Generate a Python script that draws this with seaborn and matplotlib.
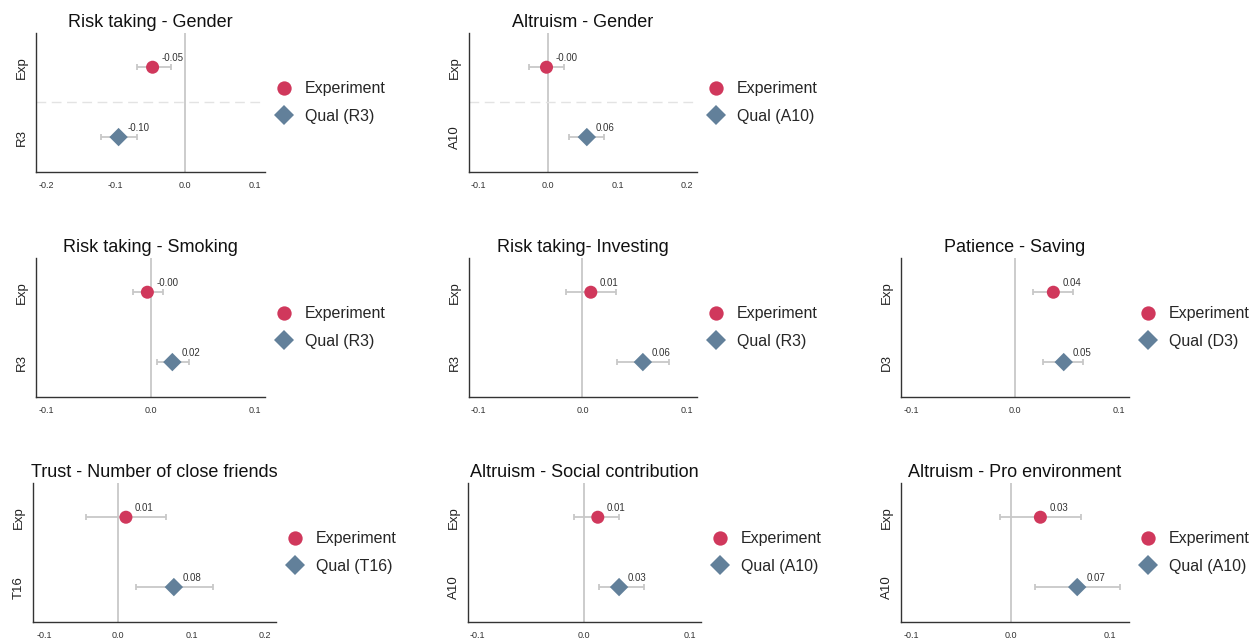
import numpy as np
import pandas as pd
import matplotlib
matplotlib.use('Agg')
import matplotlib.pyplot as plt
import seaborn as sns

# panel titles and qualitative item codes
titles = ['Risk taking - Gender', 'Altruism - Gender',
          'Risk taking - Smoking', 'Risk taking- Investing', 'Patience - Saving',
          'Trust - Number of close friends', 'Altruism - Social contribution',
          'Altruism - Pro environment']
qual_codes = ['R3', 'A10', 'R3', 'R3', 'D3', 'T16', 'A10', 'A10']

# estimates and confidence intervals
exp_est = [-0.047, -0.002, -0.003, 0.008, 0.037, 0.011, 0.013, 0.030]
exp_lo = [-0.070, -0.027, -0.017, -0.016, 0.017, -0.043, -0.009, -0.011]
exp_hi = [-0.021, 0.023, 0.012, 0.032, 0.056, 0.065, 0.033, 0.071]
qual_est = [-0.096, 0.056, 0.021, 0.058, 0.047, 0.076, 0.033, 0.067]
qual_lo = [-0.122, 0.031, 0.006, 0.033, 0.027, 0.024, 0.014, 0.025]
qual_hi = [-0.070, 0.080, 0.037, 0.083, 0.066, 0.129, 0.056, 0.110]

x_ticks = [[-0.2, -0.1, 0.0, 0.1], [-0.1, 0.0, 0.1, 0.2],
           [-0.1, 0.0, 0.1], [-0.1, 0.0, 0.1], [-0.1, 0.0, 0.1],
           [-0.1, 0.0, 0.1, 0.2], [-0.1, 0.0, 0.1], [-0.1, 0.0, 0.1]]
x_lims = [(-0.215, 0.115), (-0.1135, 0.2145), (-0.11, 0.11), (-0.109, 0.11),
          (-0.11, 0.11), (-0.115, 0.2145), (-0.109, 0.11), (-0.11, 0.119)]

# axes boxes in pixels: left, right, top, bottom
boxes = [(36, 265, 33, 172), (469, 697, 33, 172),
         (36, 265, 258, 397), (469, 697, 258, 397), (901, 1129, 258, 397),
         (33, 276, 483, 622), (468, 701, 483, 622), (901, 1129, 483, 622)]

RED = '#D0385C'
BLUE = '#62809A'
W, H = 1254, 642

sns.set_theme(style='white')
plt.rcParams['font.family'] = ['Liberation Sans', 'DejaVu Sans']
plt.rcParams['axes.unicode_minus'] = False

fig = plt.figure(figsize=(W / 100, H / 100), dpi=100)

for i in range(len(titles)):
    l, r, t, b = boxes[i]
    ax = fig.add_axes([l / W, 1 - b / H, (r - l) / W, (b - t) / H])

    df = pd.DataFrame({
        'est': [exp_est[i], qual_est[i]],
        'lo': [exp_lo[i], qual_lo[i]],
        'hi': [exp_hi[i], qual_hi[i]],
        'pos': [1, 0],
        'group': ['Experiment', 'Qual ({})'.format(qual_codes[i])],
    })

    ax.axvline(0, color='#c4c4c4', lw=1.2, zorder=0)
    if 'Gender' in titles[i]:
        ax.axhline(0.5, color='#e3e3e3', lw=1.0, ls=(0, (7, 4)), zorder=0)

    ax.errorbar(df['est'], df['pos'],
                xerr=[df['est'] - df['lo'], df['hi'] - df['est']],
                fmt='none', ecolor='#c8c8c8', elinewidth=1.3,
                capsize=2, capthick=1.3, zorder=1)

    sns.scatterplot(data=df, x='est', y='pos', hue='group', style='group',
                    markers=['o', 'D'], palette=[RED, BLUE], s=88,
                    linewidth=0, ax=ax, zorder=3)

    for _, row in df.iterrows():
        ax.annotate('{:.2f}'.format(row['est']), (row['est'], row['pos']),
                    xytext=(6.5, 3), textcoords='offset points',
                    ha='left', va='bottom', fontsize=7, color='#333333')

    ax.set_xlim(x_lims[i])
    ax.set_ylim(-0.5, 1.49)
    ax.set_xticks(x_ticks[i])
    ax.set_xticklabels(['{:.1f}'.format(v) for v in x_ticks[i]],
                       fontsize=6.5, color='#333333')
    ax.set_yticks([1, 0])
    ax.set_yticklabels(['Exp', qual_codes[i]], rotation=90, va='center',
                       fontsize=9.5, color='#222222')
    ax.tick_params(axis='x', length=3.5, width=0.8, color='#555555', pad=3)
    ax.tick_params(axis='y', length=4, width=0.8, color='#333333', pad=2)
    ax.set_xlabel('')
    ax.set_ylabel('')
    ax.set_title(titles[i], fontsize=13, pad=4, color='#111111')

    sns.despine(ax=ax)
    for sp in ['left', 'bottom']:
        ax.spines[sp].set_color('#333333')
        ax.spines[sp].set_linewidth(1.0)

    sns.move_legend(ax, 'center left', bbox_to_anchor=(1.0, 0.5),
                    frameon=False, title=None, fontsize=11.5,
                    borderaxespad=0, borderpad=0.2, handlelength=2.0,
                    handletextpad=0.3, labelspacing=0.78, markerscale=1.1)

plt.savefig('out.png', dpi=100)
